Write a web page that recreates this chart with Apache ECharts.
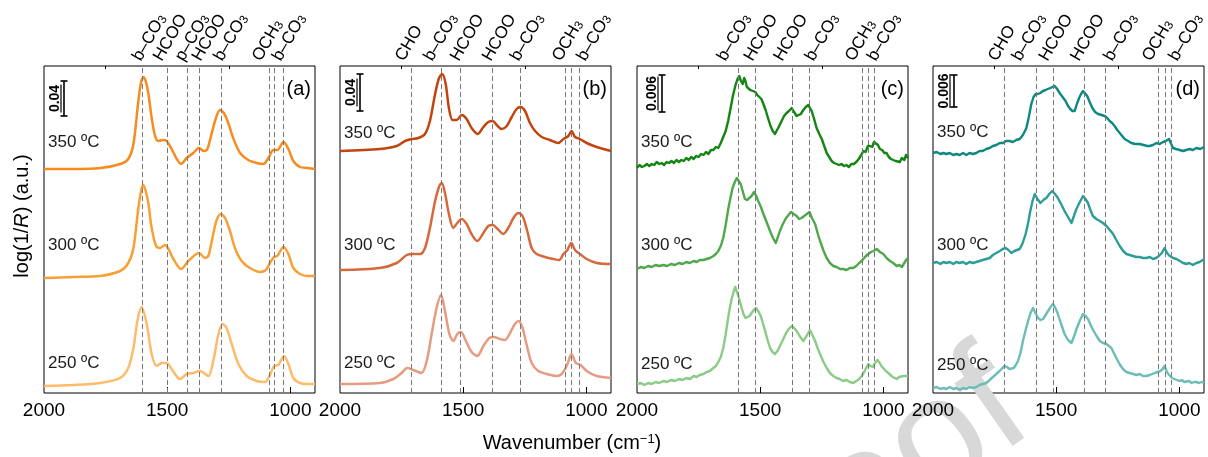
<!DOCTYPE html>
<html>
<head>
<meta charset="utf-8">
<title>DRIFT spectra</title>
<script src="https://cdn.jsdelivr.net/npm/echarts@6.0.0/dist/echarts.min.js"></script>
<style>
  html, body { margin: 0; padding: 0; background: #fff; }
  #main { width: 1208px; height: 457px; }
</style>
</head>
<body>
<div id="main"></div>
<script>
// [wavenumber (cm-1), log(1/R) in a.u.]
var a250 = [[2000,7],[1880,8],[1773,10],[1691,15],[1658,25],[1637,45],[1621,72],[1604,86],[1583,69],[1563,39],[1543,27],[1522,30],[1502,30],[1482,24],[1448,14],[1421,19],[1394,20],[1367,22],[1333,17],[1313,32],[1292,59],[1275,69],[1259,65],[1238,49],[1211,29],[1177,17],[1137,12],[1103,11],[1085,17],[1066,27],[1049,28],[1026,37],[1008,29],[988,15],[961,10],[930,9],[900,9]];
var a300 = [[2000,115],[1880,116],[1773,117],[1691,122],[1658,130],[1637,145],[1617,185],[1605,203],[1597,208],[1586,201],[1576,189],[1563,165],[1545,147],[1529,145],[1509,148],[1495,144],[1475,134],[1444,124],[1414,132],[1371,140],[1346,135],[1333,137],[1313,159],[1299,173],[1283,179],[1265,175],[1245,162],[1225,145],[1198,132],[1164,125],[1123,121],[1099,123],[1083,130],[1066,136],[1053,137],[1028,146],[1008,139],[988,125],[961,119],[930,117],[900,117]];
var a350 = [[2000,224],[1880,224],[1770,225],[1690,229],[1658,234],[1637,249],[1617,292],[1605,312],[1595,316],[1585,310],[1576,299],[1563,275],[1549,257],[1536,252],[1516,253],[1502,252],[1482,244],[1461,234],[1444,229],[1421,235],[1394,240],[1371,245],[1351,242],[1337,244],[1320,259],[1302,275],[1286,283],[1270,280],[1252,270],[1232,255],[1204,240],[1171,233],[1137,230],[1110,229],[1089,235],[1069,243],[1053,243],[1028,251],[1008,244],[988,232],[961,226],[930,225],[900,224]];

var b250 = [[2000,9],[1838,10],[1784,14],[1750,20],[1727,25],[1702,23],[1669,20],[1648,32],[1628,59],[1608,85],[1590,98],[1574,82],[1556,59],[1540,52],[1524,59],[1509,61],[1489,52],[1466,41],[1443,37],[1418,47],[1394,55],[1375,56],[1351,54],[1330,53],[1310,60],[1290,69],[1275,72],[1259,65],[1243,49],[1222,30],[1195,22],[1161,19],[1121,17],[1100,19],[1080,27],[1060,39],[1043,30],[1023,28],[999,22],[958,17],[900,15]];
var b300 = [[2000,123],[1838,125],[1770,130],[1729,138],[1702,139],[1675,139],[1655,145],[1635,165],[1614,192],[1597,207],[1587,210],[1574,200],[1558,179],[1540,165],[1524,170],[1506,174],[1486,169],[1466,159],[1443,152],[1418,160],[1398,167],[1380,168],[1360,164],[1337,159],[1317,165],[1296,175],[1276,180],[1259,177],[1240,162],[1222,145],[1202,139],[1168,136],[1134,134],[1110,133],[1093,139],[1077,143],[1061,150],[1046,143],[1026,139],[999,134],[958,130],[900,129]];
var b350 = [[2000,242],[1838,244],[1770,247],[1736,252],[1709,254],[1682,255],[1655,259],[1635,272],[1614,299],[1598,315],[1585,319],[1571,309],[1558,285],[1543,273],[1526,273],[1506,278],[1486,274],[1466,265],[1441,259],[1418,266],[1398,271],[1380,272],[1364,268],[1344,264],[1323,267],[1303,276],[1283,284],[1267,286],[1249,282],[1229,270],[1208,262],[1181,256],[1148,253],[1114,250],[1093,254],[1073,257],[1060,262],[1046,256],[1026,254],[999,250],[958,246],[900,242]];

var c250 = [[2000,9],[1985,10],[1970,8],[1955,10],[1940,9],[1925,11],[1910,10],[1893,12],[1878,11],[1862,13],[1846,12],[1830,14],[1815,13],[1800,15],[1785,14],[1770,17],[1758,16],[1745,18],[1730,19],[1717,21],[1704,22],[1690,25],[1680,27],[1670,31],[1660,36],[1650,45],[1641,57],[1632,72],[1624,84],[1616,94],[1608,101],[1601,106],[1593,100],[1585,94],[1576,86],[1568,79],[1560,75],[1552,73],[1543,77],[1535,80],[1526,83],[1517,85],[1508,82],[1498,77],[1489,70],[1480,62],[1470,53],[1460,45],[1450,41],[1440,39],[1430,42],[1420,47],[1408,53],[1395,60],[1384,64],[1372,67],[1362,65],[1352,62],[1340,57],[1325,52],[1312,57],[1298,63],[1288,58],[1277,52],[1267,45],[1257,39],[1245,32],[1230,25],[1217,20],[1203,17],[1190,15],[1178,14],[1163,12],[1150,13],[1136,11],[1122,10],[1110,12],[1098,14],[1088,17],[1078,21],[1070,25],[1061,29],[1052,27],[1043,26],[1034,30],[1024,33],[1015,30],[1008,27],[1000,25],[990,22],[980,20],[973,19],[962,16],[954,15],[946,14],[936,16],[928,15],[918,17],[910,16],[900,17]];
var c300 = [[2000,124],[1985,126],[1970,125],[1955,127],[1940,126],[1925,128],[1910,127],[1893,128],[1878,127],[1862,129],[1846,128],[1830,130],[1815,129],[1800,131],[1785,130],[1770,132],[1758,131],[1745,133],[1730,133],[1717,134],[1704,135],[1690,137],[1680,139],[1670,142],[1660,147],[1650,155],[1640,168],[1629,185],[1620,196],[1612,205],[1603,211],[1595,215],[1587,212],[1579,209],[1570,201],[1562,194],[1553,193],[1544,195],[1535,197],[1525,201],[1516,197],[1508,192],[1497,186],[1487,179],[1474,171],[1460,162],[1448,155],[1437,150],[1428,156],[1420,162],[1408,169],[1395,175],[1385,178],[1375,181],[1364,179],[1352,177],[1342,174],[1332,175],[1316,178],[1300,181],[1290,175],[1277,169],[1267,160],[1257,152],[1244,143],[1230,135],[1217,130],[1203,127],[1190,126],[1176,124],[1163,124],[1150,123],[1136,125],[1122,125],[1110,127],[1098,130],[1088,132],[1075,136],[1061,139],[1050,141],[1040,142],[1027,144],[1014,141],[1000,139],[987,135],[973,132],[960,130],[946,127],[935,128],[925,126],[915,130],[905,134],[900,133]];
var c350 = [[2000,225],[1990,228],[1980,226],[1970,227],[1960,229],[1950,227],[1940,229],[1930,228],[1920,231],[1910,229],[1900,230],[1890,228],[1880,231],[1870,230],[1860,232],[1850,230],[1840,233],[1830,231],[1820,233],[1810,232],[1800,235],[1790,233],[1780,236],[1770,234],[1760,237],[1750,236],[1740,239],[1730,238],[1720,241],[1710,239],[1700,243],[1690,243],[1680,246],[1670,245],[1660,250],[1650,256],[1640,262],[1630,272],[1620,285],[1610,298],[1600,308],[1592,314],[1585,317],[1578,312],[1571,309],[1565,315],[1560,312],[1554,306],[1548,305],[1540,303],[1530,302],[1520,301],[1512,298],[1505,299],[1495,294],[1487,289],[1478,283],[1467,274],[1458,267],[1449,262],[1440,259],[1433,261],[1425,266],[1413,272],[1403,277],[1393,280],[1383,282],[1372,285],[1365,282],[1359,280],[1352,277],[1345,276],[1335,279],[1325,283],[1315,286],[1305,288],[1298,286],[1291,282],[1281,274],[1271,265],[1260,259],[1250,254],[1240,247],[1230,240],[1220,236],[1210,232],[1200,230],[1190,229],[1180,228],[1170,229],[1160,227],[1150,228],[1140,226],[1130,229],[1120,229],[1110,231],[1100,234],[1090,238],[1081,242],[1072,241],[1063,247],[1054,247],[1045,246],[1038,251],[1030,249],[1022,248],[1014,244],[1005,243],[996,240],[987,240],[978,236],[969,234],[960,233],[950,232],[942,234],[933,231],[925,235],[915,233],[908,238],[900,235]];

var d250 = [[2000,5],[1985,6],[1970,4],[1958,5],[1946,4],[1932,6],[1918,4],[1905,5],[1892,3],[1878,5],[1865,4],[1852,6],[1838,5],[1824,6],[1811,8],[1798,9],[1784,10],[1770,13],[1757,16],[1743,19],[1730,22],[1718,25],[1709,27],[1700,26],[1690,24],[1682,22],[1672,25],[1664,28],[1655,32],[1645,40],[1635,52],[1625,62],[1614,72],[1604,80],[1594,85],[1584,80],[1574,75],[1563,73],[1553,74],[1543,78],[1533,82],[1523,86],[1513,89],[1503,85],[1493,79],[1480,69],[1466,59],[1452,53],[1438,50],[1427,57],[1416,65],[1403,73],[1391,79],[1381,77],[1371,74],[1360,68],[1348,62],[1336,57],[1323,52],[1310,50],[1296,49],[1286,47],[1276,45],[1266,40],[1256,35],[1243,29],[1229,24],[1215,21],[1202,20],[1188,19],[1175,18],[1161,19],[1148,17],[1134,17],[1120,18],[1110,19],[1100,20],[1088,21],[1077,22],[1068,24],[1060,27],[1052,22],[1045,19],[1039,17],[1030,15],[1020,14],[1012,13],[1000,12],[990,13],[980,11],[972,11],[960,12],[950,10],[940,11],[931,11],[920,10],[910,11],[900,10]];
var d300 = [[2000,130],[1985,131],[1970,129],[1958,131],[1946,130],[1932,131],[1918,129],[1905,131],[1892,130],[1878,131],[1865,129],[1852,131],[1838,130],[1824,131],[1811,132],[1798,133],[1784,134],[1770,135],[1757,138],[1743,140],[1729,142],[1717,144],[1705,145],[1694,143],[1682,140],[1670,142],[1659,143],[1648,144],[1636,150],[1624,159],[1614,170],[1605,182],[1596,192],[1587,199],[1576,194],[1564,190],[1552,193],[1540,195],[1528,199],[1516,202],[1505,199],[1493,195],[1480,189],[1466,182],[1452,176],[1438,170],[1428,177],[1418,184],[1404,191],[1391,197],[1381,194],[1371,190],[1361,183],[1351,177],[1337,174],[1323,172],[1310,170],[1296,167],[1282,163],[1269,159],[1256,153],[1242,147],[1228,142],[1215,139],[1202,138],[1188,137],[1175,136],[1161,136],[1148,135],[1134,135],[1120,136],[1107,134],[1095,135],[1083,137],[1071,140],[1060,145],[1050,140],[1039,137],[1025,135],[1012,134],[998,132],[985,130],[972,129],[960,130],[945,128],[931,130],[918,131],[905,133],[900,133]];
var d350 = [[2000,240],[1985,241],[1970,239],[1958,240],[1946,239],[1932,240],[1918,238],[1905,239],[1892,238],[1878,240],[1865,238],[1852,240],[1838,239],[1824,240],[1811,242],[1798,242],[1784,244],[1770,245],[1757,247],[1743,248],[1729,250],[1716,250],[1703,252],[1689,252],[1676,251],[1662,253],[1648,254],[1635,258],[1621,265],[1611,276],[1601,289],[1592,296],[1583,299],[1574,299],[1564,300],[1554,302],[1543,303],[1534,304],[1524,305],[1515,306],[1506,307],[1496,304],[1486,300],[1474,296],[1462,292],[1452,287],[1443,284],[1434,282],[1425,282],[1416,289],[1407,295],[1399,299],[1391,302],[1383,300],[1374,297],[1364,291],[1353,285],[1342,281],[1330,279],[1316,278],[1303,277],[1293,275],[1283,272],[1273,270],[1263,267],[1252,263],[1242,260],[1232,257],[1222,254],[1208,252],[1195,250],[1180,249],[1161,249],[1145,248],[1130,247],[1121,247],[1107,248],[1093,250],[1080,249],[1066,251],[1055,252],[1042,254],[1035,250],[1026,245],[1014,244],[999,243],[985,242],[972,243],[958,244],[945,243],[931,245],[915,244],[900,246]];

// band positions (dashed lines) and the labels above each panel
var bandsA = [1600, 1500, 1420, 1370, 1280, 1085, 1065, 1030];
var bandsB = [1710, 1590, 1510, 1380, 1270, 1085, 1060, 1030];
var bandsC = [1590, 1520, 1370, 1300, 1085, 1060, 1035];
var bandsD = [1710, 1580, 1510, 1385, 1300, 1087, 1057, 1032];
var labelsA = [['b–CO{s|3}', 1598], ['HCOO', 1513], ['p–CO{s|3}', 1424], ['HCOO', 1355], ['b–CO{s|3}', 1267], ['OCH{s|3}', 1111], ['b–CO{s|3}', 1030]];
var labelsB = [['CHO', 1732], ['b–CO{s|3}', 1616], ['HCOO', 1509], ['HCOO', 1379], ['b–CO{s|3}', 1265], ['OCH{s|3}', 1095], ['b–CO{s|3}', 995]];
var labelsC = [['b–CO{s|3}', 1631], ['HCOO', 1522], ['HCOO', 1401], ['b–CO{s|3}', 1274], ['OCH{s|3}', 1111], ['b–CO{s|3}', 1022]];
var labelsD = [['CHO', 1732], ['b–CO{s|3}', 1635], ['HCOO', 1526], ['HCOO', 1398], ['b–CO{s|3}', 1263], ['OCH{s|3}', 1107], ['b–CO{s|3}', 999]];

var temps = ['250 ºC', '300 ºC', '350 ºC'];
var panelNames = ['(a)', '(b)', '(c)', '(d)'];
var scaleText = ['0.04', '0.04', '0.006', '0.006'];
var scaleLen = [35, 37, 37, 32];
var xLabels = [2000, 1500, 1000];
var xMajor = [1500, 1000];
var xMinor = [1750, 1250];

var FONT = "'Liberation Sans', Arial, sans-serif";
var GT = 66, GH = 327, GW = 271;

var panels = [
  { left: 44, data: [a250, a300, a350], colors: ['#FDBB6B', '#F8A035', '#F68B1F'], bands: bandsA, labels: labelsA, smooth: 0.3, width: 2.5, tempY: [363, 245, 142], barX: 20, textX: 11, barTop: 81 },
  { left: 340, data: [b250, b300, b350], colors: ['#E59C80', '#D6693B', '#C2440F'], bands: bandsB, labels: labelsB, smooth: 0.3, width: 2.5, tempY: [363, 245, 133], barX: 20, textX: 11, barTop: 74 },
  { left: 637, data: [c250, c300, c350], colors: ['#8ACB85', '#4FA74B', '#138513'], bands: bandsC, labels: labelsC, smooth: false, width: 2.4, tempY: [364, 245, 142], barX: 25, textX: 15, barTop: 75 },
  { left: 933, data: [d250, d300, d350], colors: ['#6CBDB7', '#2C9D96', '#0E8981'], bands: bandsD, labels: labelsD, smooth: false, width: 2.4, tempY: [365, 245, 132], barX: 21, textX: 11, barTop: 75 }
];

var grids = [], xAxes = [], yAxes = [], series = [];
panels.forEach(function (p, i) {
  grids.push({ left: p.left, top: GT, width: GW, height: GH, show: true, borderColor: '#000', borderWidth: 1, outerBoundsMode: 'none' });
  xAxes.push({
    gridIndex: i, type: 'value', min: 900, max: 2000, inverse: true,
    axisLine: { show: false }, splitLine: { show: false },
    axisTick: { inside: true, length: 6, customValues: xMajor, lineStyle: { color: '#000' } },
    axisLabel: { customValues: xLabels, margin: 8, fontSize: 19, color: '#000', fontFamily: FONT,
      formatter: function (v) { return String(v); } }
  });
  xAxes.push({
    gridIndex: i, type: 'value', min: 900, max: 2000, inverse: true,
    axisLine: { show: false }, splitLine: { show: false }, axisLabel: { show: false },
    axisTick: { inside: true, length: 3, customValues: xMinor, lineStyle: { color: '#000' } }
  });
  yAxes.push({ gridIndex: i, type: 'value', min: 0, max: GH, show: false });
  p.data.forEach(function (d, k) {
    var s = {
      type: 'line', xAxisIndex: 2 * i, yAxisIndex: i, data: d,
      showSymbol: false, symbol: 'none', smooth: p.smooth, silent: true,
      lineStyle: { width: p.width, color: p.colors[k], join: 'round' }, itemStyle: { color: p.colors[k] }, z: 3
    };
    if (k === 0) {
      s.z = 2;
      s.markLine = {
        silent: true, symbol: ['none', 'none'], label: { show: false },
        lineStyle: { color: '#777', type: [5, 3], width: 1 },
        data: p.bands.map(function (b) { return { xAxis: b }; })
      };
    }
    series.push(s);
  });
});

var chart = echarts.init(document.getElementById('main'));
chart.setOption({
  animation: false,
  backgroundColor: '#fff',
  textStyle: { fontFamily: FONT },
  grid: grids, xAxis: xAxes, yAxis: yAxes, series: series
});

var g = [];
// proof watermark, kept behind everything else
g.push({
  type: 'text', x: 1058, y: 458, rotation: 35 * Math.PI / 180, z: 0,
  style: { text: 'Proof', fontSize: 160, fontFamily: FONT, fill: '#d8d8d8', align: 'right', verticalAlign: 'bottom' }
});

// annotations placed through the axes
var subRich = { s: { fontSize: 12, lineHeight: 6, verticalAlign: 'bottom', fontFamily: FONT } };
panels.forEach(function (p, i) {
  var finder = { xAxisIndex: 2 * i, yAxisIndex: i };
  var top = chart.convertToPixel(finder, [2000, GH])[1];
  p.labels.forEach(function (l) {
    var x = chart.convertToPixel(finder, [l[1], 0])[0];
    g.push({
      type: 'text', x: x + 1, y: top - 2, rotation: Math.PI / 3,
      style: { text: l[0], rich: subRich, fontSize: 17, fontFamily: FONT, fill: '#000', align: 'left', verticalAlign: 'bottom' }
    });
  });
  p.tempY.forEach(function (ty, k) {
    g.push({ type: 'text', x: p.left + 4, y: ty, style: { text: temps[k], fontSize: 17, fontFamily: FONT, fill: '#1a1a1a', align: 'left', verticalAlign: 'middle' } });
  });
  g.push({ type: 'text', x: p.left + GW - 4, y: 89, style: { text: panelNames[i], fontSize: 20, fontFamily: FONT, fill: '#000', align: 'right', verticalAlign: 'middle' } });
  // scale bar
  var y0 = chart.convertToPixel(finder, [2000, 0])[1];
  var len = y0 - chart.convertToPixel(finder, [2000, scaleLen[i]])[1];
  var bx = p.left + p.barX, bt = p.barTop, bb = p.barTop + len, bm = (bt + bb) / 2;
  var ls = { stroke: '#000', lineWidth: 1.6 };
  g.push({ type: 'line', shape: { x1: bx, y1: bt, x2: bx, y2: bb }, style: ls });
  g.push({ type: 'line', shape: { x1: bx - 3.5, y1: bt, x2: bx + 3.5, y2: bt }, style: ls });
  g.push({ type: 'line', shape: { x1: bx - 3.5, y1: bb, x2: bx + 3.5, y2: bb }, style: ls });
  var tx = p.left + p.textX;
  var tw = scaleText[i].length > 4 ? 34 : 28;
  g.push({ type: 'text', x: tx, y: bm, rotation: Math.PI / 2, style: { text: scaleText[i], fontSize: 14, fontWeight: 'bold', fontFamily: FONT, fill: '#000', align: 'center', verticalAlign: 'middle' } });
  g.push({ type: 'line', shape: { x1: tx + 6, y1: bm - tw / 2, x2: tx + 6, y2: bm + tw / 2 }, style: { stroke: '#000', lineWidth: 1.2 } });
});

g.push({
  type: 'text', x: 22, y: 216, rotation: Math.PI / 2,
  style: { text: 'log(1/{i|R}) (a.u.)', rich: { i: { fontStyle: 'italic', fontSize: 20, fontFamily: FONT } }, fontSize: 20, fontFamily: FONT, fill: '#000', align: 'center', verticalAlign: 'middle' }
});
g.push({
  type: 'text', x: 572, y: 443,
  style: { text: 'Wavenumber (cm{s|−1})', rich: { s: { fontSize: 13, lineHeight: 8, verticalAlign: 'top', fontFamily: FONT } }, fontSize: 20, fontFamily: FONT, fill: '#000', align: 'center', verticalAlign: 'middle' }
});

chart.setOption({ graphic: g });
</script>
</body>
</html>
